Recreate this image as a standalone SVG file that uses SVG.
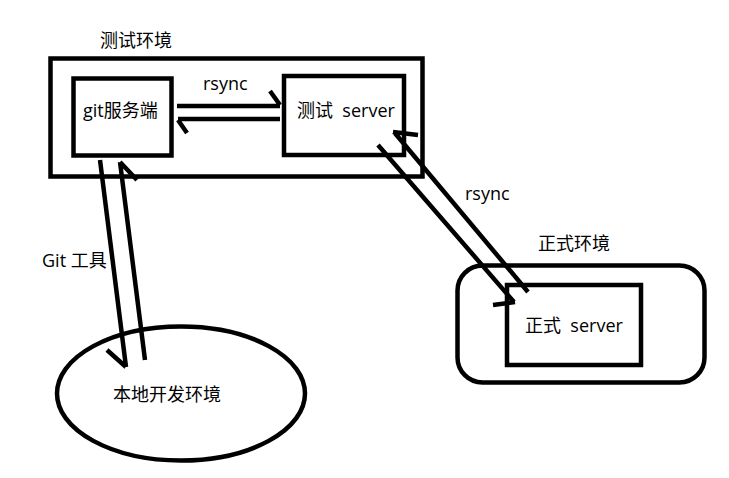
<svg xmlns="http://www.w3.org/2000/svg" width="729" height="478" viewBox="0 0 729 478">
<style>
  .box { fill: none; stroke: #000; stroke-width: 4.5; }
  .ln { fill: none; stroke: #000; stroke-width: 4.5; stroke-linecap: butt; stroke-linejoin: miter; }
  text { font-family: "Open Sans", "Noto Sans CJK SC", sans-serif; font-size: 18px; fill: #000; }
</style>
<rect width="729" height="478" fill="#fff"/>
<g id="test-env">
  <rect class="box" x="50.5" y="58.5" width="372" height="118" stroke-width="5"/>
  <text x="100" y="47">测试环境</text>
</g>
<g id="git-server">
  <rect class="box" x="73.5" y="78.5" width="98" height="77"/>
  <text x="83" y="117">git服务端</text>
</g>
<g id="test-server">
  <rect class="box" x="284" y="76" width="120" height="79"/>
  <text x="297" y="117" xml:space="preserve">测试  server</text>
</g>
<g id="prod-env">
  <rect class="box" x="457.5" y="265.5" width="247" height="117" rx="25" ry="25" stroke-width="5"/>
  <text x="538" y="250">正式环境</text>
</g>
<g id="prod-server">
  <rect class="box" x="507" y="285" width="134" height="80"/>
  <text x="525" y="332" xml:space="preserve">正式  server</text>
</g>
<g id="local-env">
  <ellipse class="box" cx="181" cy="393.5" rx="124" ry="67"/>
  <text x="113" y="401">本地开发环境</text>
</g>
<g id="connectors">
  <path class="ln" d="M177 106 H280 M270 91 L280 105"/>
  <path class="ln" d="M280 119 H178 M178 120 L187 133"/>
  <text x="203" y="90">rsync</text>
  <path class="ln" d="M378 145 L514 302 M493 305 L515 302"/>
  <path class="ln" d="M528 292 L394 132 M393 132 L418 135"/>
  <text x="465" y="200">rsync</text>
  <path class="ln" d="M100 160 L126 367 M107 350 L126 367"/>
  <path class="ln" d="M145 360 L120 162 M120 162 L137 180"/>
  <text x="42" y="267">Git 工具</text>
</g>
</svg>
